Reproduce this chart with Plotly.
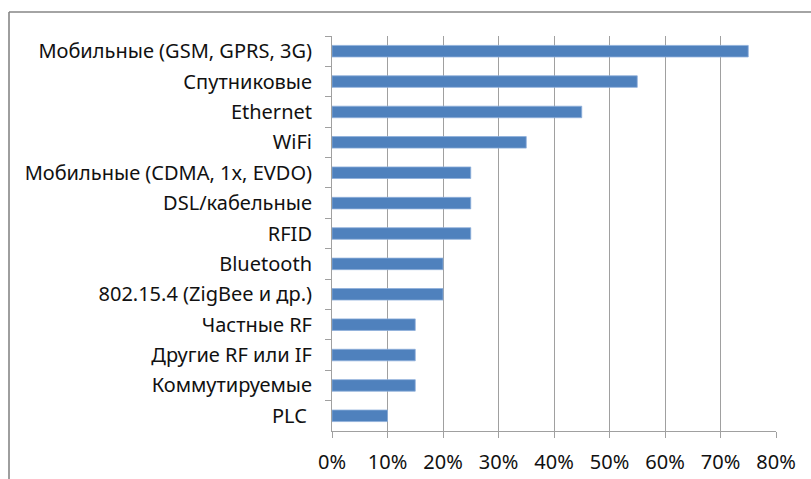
import plotly.graph_objects as go

# Connection types (top to bottom) and their shares
categories = [
    "Мобильные (GSM, GPRS, 3G)",
    "Спутниковые",
    "Ethernet",
    "WiFi",
    "Мобильные (CDMA, 1x, EVDO)",
    "DSL/кабельные",
    "RFID",
    "Bluetooth",
    "802.15.4 (ZigBee и др.)",
    "Частные RF",
    "Другие RF или IF",
    "Коммутируемые",
    "PLC\u00a0",
]
shares = [0.75, 0.55, 0.45, 0.35, 0.25, 0.25, 0.25, 0.20, 0.20, 0.15, 0.15, 0.15, 0.10]
x_ticks = [0, 0.1, 0.2, 0.3, 0.4, 0.5, 0.6, 0.7, 0.8]

FONT = "Noto Sans"
FSIZE = 20
GRID = "#A0A0A0"
FRAME = "#868686"

L, R, T, B = 332, 776, 36, 431  # plot-area edges in pixels
PW, PH = R - L, B - T

fig = go.Figure(
    go.Bar(
        x=shares,
        y=categories,
        orientation="h",
        marker=dict(color="#4F81BD", line=dict(color="#8EAEDB", width=0.8)),
        hoverinfo="skip",
    )
)

fig.update_layout(
    width=811,
    height=479,
    margin=dict(l=L, r=811 - R, t=T, b=479 - B),
    paper_bgcolor="white",
    plot_bgcolor="white",
    bargap=0.62,
    showlegend=False,
    font=dict(family=FONT, size=FSIZE, color="#111111"),
)

fig.update_xaxes(
    range=[0, 0.8],
    tickvals=x_ticks,
    tickformat=".0%",
    showgrid=True,
    gridcolor=GRID,
    gridwidth=1,
    showline=True,
    linecolor=GRID,
    linewidth=1,
    ticks="outside",
    ticklen=6,
    tickcolor=GRID,
    zeroline=False,
    automargin=False,
    ticklabelstandoff=7,
    tickfont=dict(family=FONT, size=FSIZE, color="#111111"),
)

fig.update_yaxes(
    categoryorder="array",
    categoryarray=categories,
    autorange="reversed",
    tickson="boundaries",
    ticks="outside",
    ticklen=6,
    tickcolor=GRID,
    showgrid=False,
    showline=True,
    linecolor=GRID,
    linewidth=1,
    automargin=False,
    ticklabelstandoff=15,
    tickfont=dict(family=FONT, size=FSIZE, color="#111111"),
)

# Chart frame (top and left edges)
fx = (9 - L) / PW
fy = (B - 12) / PH
fig.add_shape(type="line", xref="paper", yref="paper",
              x0=fx, x1=1.2, y0=fy, y1=fy,
              line=dict(color=FRAME, width=1.6))
fig.add_shape(type="line", xref="paper", yref="paper",
              x0=fx, x1=fx, y0=fy, y1=-0.3,
              line=dict(color=FRAME, width=1.6))

fig.write_html("out.html")
